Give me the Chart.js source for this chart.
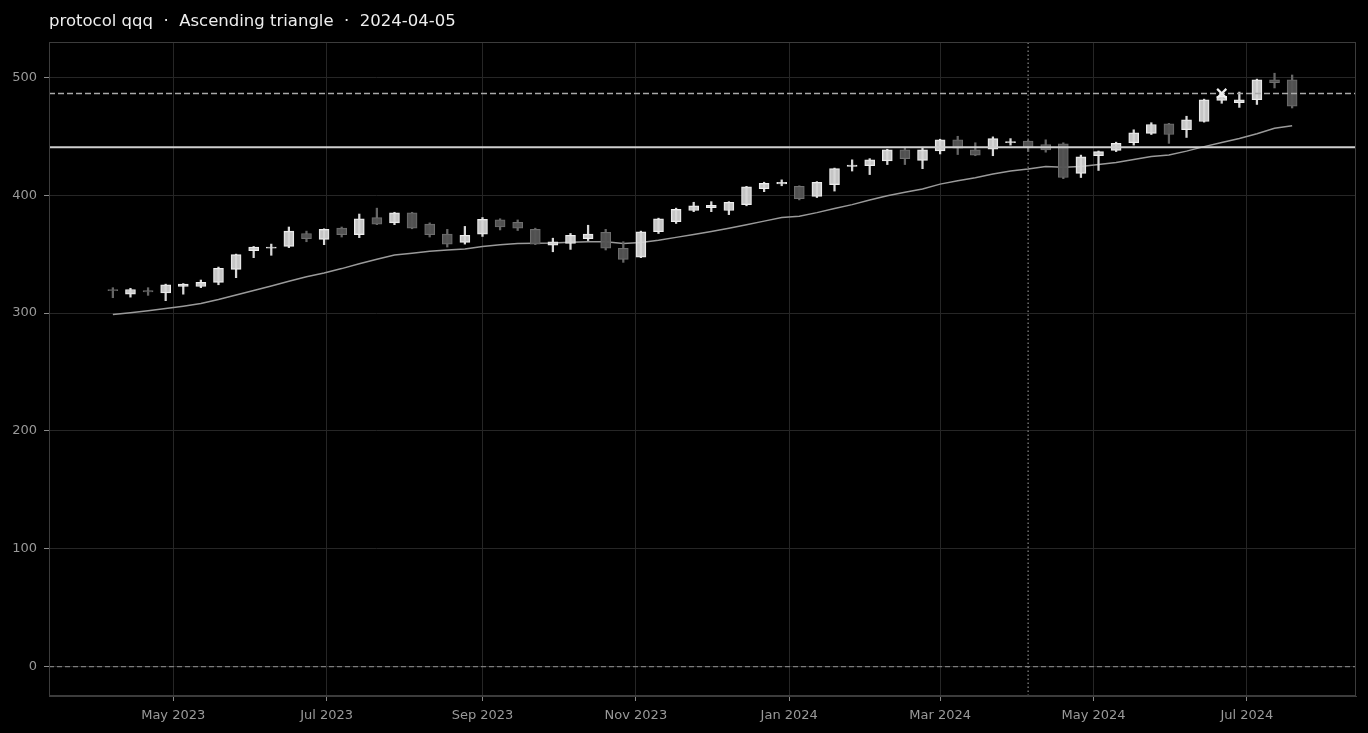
<!DOCTYPE html>
<html>
<head>
<meta charset="utf-8">
<script src="https://cdn.jsdelivr.net/npm/chart.js@4.4.1/dist/chart.umd.min.js"></script>
<style>
  html, body { margin: 0; padding: 0; background: #000; }
  #wrap { position: relative; width: 1368px; height: 733px; background: #000; }
</style>
</head>
<body>
<div id="wrap"><canvas id="c"></canvas></div>
<script>
// ---------------- data ----------------
const titleText = 'protocol qqq  \u00b7  Ascending triangle  \u00b7  2024-04-05';

const dates = [
  '2023-04-07','2023-04-14','2023-04-21','2023-04-28','2023-05-05','2023-05-12','2023-05-19','2023-05-26',
  '2023-06-02','2023-06-09','2023-06-16','2023-06-23','2023-06-30','2023-07-07','2023-07-14','2023-07-21',
  '2023-07-28','2023-08-04','2023-08-11','2023-08-18','2023-08-25','2023-09-01','2023-09-08','2023-09-15',
  '2023-09-22','2023-09-29','2023-10-06','2023-10-13','2023-10-20','2023-10-27','2023-11-03','2023-11-10',
  '2023-11-17','2023-11-24','2023-12-01','2023-12-08','2023-12-15','2023-12-22','2023-12-29','2024-01-05',
  '2024-01-12','2024-01-19','2024-01-26','2024-02-02','2024-02-09','2024-02-16','2024-02-23','2024-03-01',
  '2024-03-08','2024-03-15','2024-03-22','2024-03-29','2024-04-05','2024-04-12','2024-04-19','2024-04-26',
  '2024-05-03','2024-05-10','2024-05-17','2024-05-24','2024-05-31','2024-06-07','2024-06-14','2024-06-21',
  '2024-06-28','2024-07-05','2024-07-12','2024-07-19'
];

const opens = [
  320, 316, 319, 317, 322.5, 322.5, 326, 337, 353, 355, 356.5, 367.5, 362.5, 372, 366.5, 381,
  376.5, 385, 375.5, 367, 360, 367, 379, 377, 371, 357.5, 359, 363, 368.5, 355, 347.5, 369,
  377.5, 387, 389.5, 387, 392, 405.5, 409.5, 407.5, 399, 409, 424.5, 425, 429, 438.5, 429.5, 437.5,
  447, 438.5, 439, 444.5, 446, 443, 443.5, 418.5, 433.5, 438, 444.5, 452.5, 460.5, 455.5, 462.5, 480.5,
  478.5, 481, 498, 498
];
const highs = [
  321.5, 321, 321.5, 324.5, 325, 328, 339, 350, 356.5, 358.5, 373, 369.5, 371.5, 373, 384, 389,
  385.5, 385.5, 376.5, 371, 373.5, 381, 380, 379, 372, 363.5, 367.5, 374.5, 371, 360.5, 369.5, 380.5,
  389, 394, 394.5, 394.5, 407.5, 411, 413, 408, 411.5, 423, 430, 431, 439, 440, 440.5, 447.5,
  450, 444.5, 449.5, 448, 446.5, 447, 444.5, 434, 437.5, 445, 455.5, 461.5, 461, 467, 481.5, 487,
  487.5, 498.5, 503.5, 502
];
const lows = [
  313, 313.5, 315, 310.5, 316, 321.5, 324, 330, 347, 349, 355.5, 360.5, 358, 364.5, 364, 375,
  375, 371.5, 364.5, 356, 358.5, 365, 370.5, 370, 358, 352, 354, 361.5, 353.5, 343, 347, 367.5,
  376, 386, 386, 383.5, 391, 403, 408, 396, 398, 403.5, 420.5, 417.5, 426, 426, 422.5, 435,
  434.5, 433.5, 433.5, 442.5, 437, 436.5, 414, 415, 421, 437, 442.5, 451.5, 444, 449, 462, 478,
  474.5, 477, 491, 474
];
const closes = [
  319, 320, 318, 324, 324.5, 326, 338, 349.5, 356, 356, 369.5, 363, 371, 366.5, 380, 375.5,
  385, 372, 366.5, 358.5, 366, 379.5, 373, 372, 358.5, 360.5, 366, 367, 355, 345.5, 369, 380,
  388, 391, 391.5, 394, 407, 410, 411, 397, 411, 422.5, 425.5, 430, 438.5, 431, 438.5, 447,
  440, 434, 448, 445.5, 440.5, 438.5, 415, 432.5, 437, 444, 453, 460, 451.5, 464, 481, 484,
  481, 498, 495.5, 475.5
];
const movingAverage = [
  298.7, 300.3, 301.9, 303.8, 305.8, 308, 311.4, 315.3, 319.2, 323, 327, 330.7, 334, 337.7, 341.8, 345.6,
  349.2, 350.8, 352.5, 353.4, 354.3, 356.5, 358, 359.1, 359.2, 359.4, 360, 360.4, 360.4, 359.1, 359.8, 361.8,
  364.2, 366.7, 369.2, 372, 375, 378, 381, 382.2, 385.2, 388.7, 392, 396, 399.5, 402.4, 405.3, 409.4,
  412.3, 414.8, 418, 420.5, 422.2, 424.3, 423.8, 424.4, 426, 427.7, 430.2, 432.8, 434.2, 437.4, 441.2, 444.7,
  448.1, 452.2, 456.8, 459
];

const resistanceLevel = 440.7;
const targetLevel = 486.4;
const baseLevel = 0;
const signalDate = '2024-04-05';
const markerDate = '2024-06-21';
const markerValue = 486.3;

const tickDates  = ['2023-05-01','2023-07-01','2023-09-01','2023-11-01','2024-01-01','2024-03-01','2024-05-01','2024-07-01'];
const tickLabels = ['May 2023','Jul 2023','Sep 2023','Nov 2023','Jan 2024','Mar 2024','May 2024','Jul 2024'];
const yTicks = [0, 100, 200, 300, 400, 500];

// ---------------- helpers ----------------
const EPOCH = Date.UTC(2023, 3, 7);
function dayNum(s) {
  const p = s.split('-').map(Number);
  return (Date.UTC(p[0], p[1] - 1, p[2]) - EPOCH) / 86400000;
}
const X_MIN = -25.4, X_MAX = 494.4;
const Y_MIN = -25, Y_MAX = 530;

const isUp = i => closes[i] >= opens[i];
const UP_FILL = 'rgba(214,214,214,0.92)', UP_EDGE = '#eeeeee', UP_WICK = '#d8d8d8';
const DN_FILL = 'rgba(84,84,84,0.95)',   DN_EDGE = '#6e6e6e', DN_WICK = '#666666';

const bodyData = dates.map((d, i) => ({ x: dayNum(d), y: [opens[i], closes[i]] }));
const wickData = dates.map((d, i) => ({ x: dayNum(d), y: [lows[i], highs[i]] }));
const maData   = dates.map((d, i) => ({ x: dayNum(d), y: movingAverage[i] }));
const hLine = v => [{ x: X_MIN, y: v }, { x: X_MAX, y: v }];
const tickValues = tickDates.map(dayNum);

Chart.defaults.font.family = "'DejaVu Sans', sans-serif";
Chart.defaults.color = '#999999';

const frame = {
  id: 'frame',
  beforeDraw(chart) {
    const c = chart.ctx;
    c.save();
    c.fillStyle = '#000';
    c.fillRect(0, 0, chart.width, chart.height);
    c.restore();
  },
  afterDraw(chart) {
    const a = chart.chartArea, c = chart.ctx;
    c.save();
    c.strokeStyle = '#3c3c3c';
    c.lineWidth = 1;
    c.strokeRect(a.left + 0.5, a.top + 0.5, a.right - a.left - 1, a.bottom - a.top - 1);
    c.restore();
  }
};

new Chart(document.getElementById('c'), {
  type: 'bar',
  data: {
    datasets: [
      { type: 'scatter', data: [{ x: dayNum(markerDate), y: markerValue }], pointStyle: 'crossRot',
        pointRadius: 6.5, pointBorderWidth: 2.2, borderColor: '#f0f0f0', backgroundColor: '#f0f0f0', order: 0 },
      { type: 'line', data: hLine(resistanceLevel), borderColor: '#cfcfcf', borderWidth: 1.8,
        pointRadius: 0, order: 1 },
      { type: 'line', data: hLine(targetLevel), borderColor: '#a9a9a9', borderWidth: 1.5,
        borderDash: [6, 3], pointRadius: 0, order: 1 },
      { type: 'line', data: hLine(baseLevel), borderColor: '#7c7c7c', borderWidth: 1.2,
        borderDash: [5, 3], pointRadius: 0, order: 1 },
      { type: 'bar', data: bodyData, grouped: false, barThickness: 10, borderWidth: 1, borderSkipped: false,
        backgroundColor: c => isUp(c.dataIndex) ? UP_FILL : DN_FILL,
        borderColor: c => isUp(c.dataIndex) ? UP_EDGE : DN_EDGE, order: 2 },
      { type: 'bar', data: wickData, grouped: false, barThickness: 1.6, borderWidth: 0,
        backgroundColor: c => isUp(c.dataIndex) ? UP_WICK : DN_WICK, order: 3 },
      { type: 'line', data: maData, borderColor: '#9a9a9a', borderWidth: 1.5, pointRadius: 0,
        tension: 0, order: 4 },
      { type: 'line', data: [{ x: dayNum(signalDate), y: Y_MIN }, { x: dayNum(signalDate), y: Y_MAX }],
        borderColor: '#8a8a8a', borderWidth: 1.2, borderDash: [1.5, 2.5], pointRadius: 0, order: 5 }
    ]
  },
  options: {
    responsive: true,
    maintainAspectRatio: false,
    animation: false,
    devicePixelRatio: 1,
    layout: { padding: { top: 0, right: 12, left: 0, bottom: 0 } },
    plugins: {
      legend: { display: false },
      tooltip: { enabled: false },
      title: {
        display: true, text: titleText, align: 'start', fullSize: false,
        color: '#eeeeee', font: { size: 16.5, weight: 'normal' },
        padding: { top: 12, bottom: 10.2 }
      }
    },
    scales: {
      x: {
        type: 'linear', min: X_MIN, max: X_MAX, offset: false,
        afterBuildTicks: s => { s.ticks = tickValues.map(v => ({ value: v })); },
        afterFit: s => { s.height = 37; },
        ticks: {
          autoSkip: false, maxRotation: 0, padding: 6.5, color: '#999999', font: { size: 13 },
          callback: v => { const k = tickValues.indexOf(v); return k >= 0 ? tickLabels[k] : ''; }
        },
        grid: { offset: false, color: '#262626', tickColor: '#8a8a8a', tickLength: 5, lineWidth: 1 },
        border: { color: '#3c3c3c' }
      },
      y: {
        type: 'linear', min: Y_MIN, max: Y_MAX,
        afterBuildTicks: s => { s.ticks = yTicks.map(v => ({ value: v })); },
        afterFit: s => { s.width = 49; },
        ticks: { padding: 7, color: '#999999', font: { size: 13 }, includeBounds: false },
        grid: { offset: false, color: '#262626', tickColor: '#8a8a8a', tickLength: 5, lineWidth: 1 },
        border: { color: '#3c3c3c' }
      }
    }
  },
  plugins: [frame]
});
</script>
</body>
</html>
